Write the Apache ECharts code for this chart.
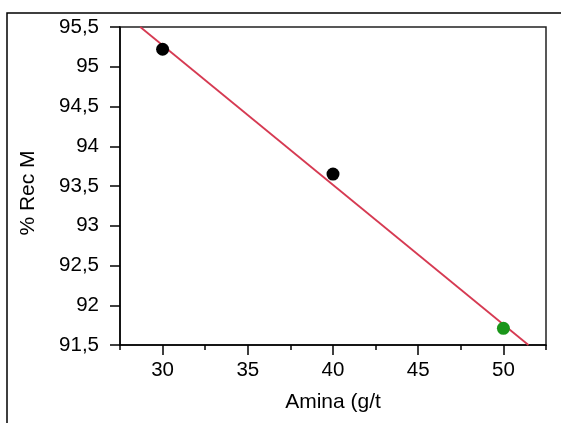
<!DOCTYPE html>
<html>
<head>
<meta charset="utf-8">
<script src="https://cdn.jsdelivr.net/npm/echarts@6/dist/echarts.min.js"></script>
<style>html,body{margin:0;padding:0;background:#fff;}#c{width:561px;height:423px;}</style>
</head>
<body>
<div id="c"></div>
<script>
var blackPoints = [[30, 95.22], [40, 93.65]];
var greenPoints = [[50, 91.71]];
var fitLine = [[28.69, 95.5], [51.47, 91.5]];
var xMajorTicks = [30, 35, 40, 45, 50];
var xMinorTicks = [27.5, 32.5, 37.5, 42.5, 47.5, 52.5];
var xTitle = 'Amina (g/t';
var yTitle = '% Rec M';

var FONT = 'Liberation Sans';
var chart = echarts.init(document.getElementById('c'), null, {renderer: 'canvas'});
var axisLineStyle = {color: '#000', width: 1.5};
chart.setOption({
  animation: false,
  backgroundColor: '#fff',
  graphic: [{
    type: 'rect', shape: {x: 7, y: 13, width: 700, height: 600},
    style: {fill: 'none', stroke: '#000', lineWidth: 1.5}, silent: true
  }],
  grid: {left: 120, top: 27, right: 15, bottom: 78, show: true, borderColor: '#222', borderWidth: 1.5, backgroundColor: 'transparent'},
  xAxis: [{
    type: 'value', min: 27.5, max: 52.5, interval: 2.5,
    position: 'bottom',
    name: xTitle, nameLocation: 'middle', nameGap: 47,
    nameTextStyle: {fontFamily: FONT, fontSize: 21, color: '#000'},
    axisLine: {show: true, onZero: false, lineStyle: axisLineStyle},
    axisTick: {show: true, inside: false, length: 10, customValues: xMajorTicks, lineStyle: {color: '#000', width: 1.5}},
    axisLabel: {show: true, customValues: xMajorTicks, margin: 15, fontFamily: FONT, fontSize: 20.5, color: '#000'},
    splitLine: {show: false}
  }, {
    type: 'value', min: 27.5, max: 52.5, interval: 2.5,
    position: 'bottom',
    axisLine: {show: false, onZero: false},
    axisTick: {show: true, inside: false, length: 5, customValues: xMinorTicks, lineStyle: {color: '#000', width: 1.5}},
    axisLabel: {show: false},
    splitLine: {show: false}
  }],
  yAxis: {
    type: 'value', min: 91.5, max: 95.5, interval: 0.5,
    name: yTitle, nameLocation: 'middle', nameGap: 81, nameRotate: 90,
    nameTextStyle: {fontFamily: FONT, fontSize: 21, color: '#000', padding: [0, 14, 0, 0]},
    axisLine: {show: true, onZero: false, lineStyle: axisLineStyle},
    axisTick: {show: true, inside: false, length: 10, lineStyle: {color: '#000', width: 1.5}},
    axisLabel: {margin: 21, fontFamily: FONT, fontSize: 20.5, color: '#000',
      formatter: function (v) { return String(Math.round(v * 10) / 10).replace('.', ','); }},
    splitLine: {show: false}
  },
  series: [{
    type: 'line', data: fitLine, symbol: 'none', clip: true,
    lineStyle: {color: '#d63a52', width: 1.8}, z: 2
  }, {
    type: 'scatter', data: blackPoints, symbol: 'circle', symbolSize: 13,
    itemStyle: {color: '#000', opacity: 1}, z: 3
  }, {
    type: 'scatter', data: greenPoints, symbol: 'circle', symbolSize: 13,
    itemStyle: {color: '#1a961a', opacity: 1}, z: 3
  }]
});
</script>
</body>
</html>
